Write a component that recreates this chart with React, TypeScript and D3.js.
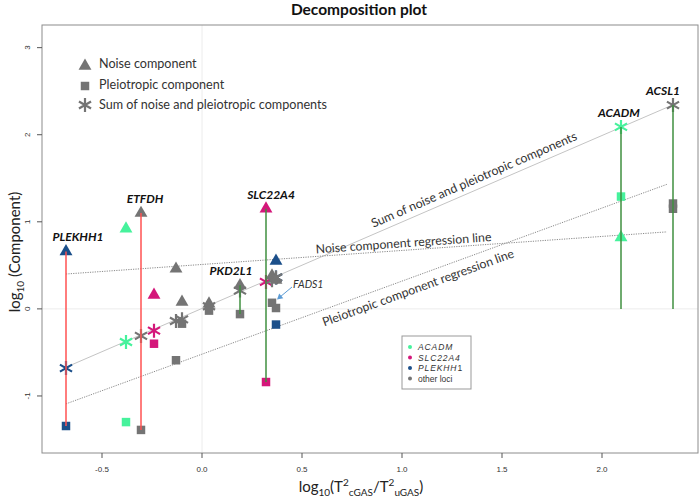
import React from 'react';
import * as d3 from 'd3';

// axis ticks
const xTicks = [-0.5, 0, 0.5, 1, 1.5, 2];
const yTicks = [-1, 0, 1, 2, 3];

// loci: x = log10(T2cGAS/T2uGAS), components on log10 scale (null = not visible)
const lociGroup = ['PLEKHH1', 'ACADM', 'other', 'SLC22A4', 'other', 'other', 'other', 'other', 'SLC22A4', 'PLEKHH1', 'other', 'other', 'ACADM', 'other', 'other'];
const lociX = [-0.68, -0.38, -0.305, -0.24, -0.13, -0.1, 0.035, 0.19, 0.32, 0.37, 0.35, 0.37, 2.095, 2.355, 2.355];
const noiseVals = [0.66, 0.92, 1.1, 0.16, 0.46, 0.08, 0.06, 0.27, 1.15, 0.55, 0.38, 0.33, 0.82, null, null];
const pleioVals = [-1.345, -1.3, -1.39, -0.4, -0.59, -0.17, -0.02, -0.06, -0.84, -0.18, 0.07, 0.01, 1.29, 1.21, 1.15];
const sumVals = [-0.68, -0.38, -0.31, -0.25, -0.14, -0.12, 0.03, 0.21, 0.31, 0.36, 0.33, 0.36, 2.09, 2.34, null];

// vertical stems between components
const stemX = [-0.68, -0.305, 0.19, 0.32, 2.095, 2.355];
const stemTop = [0.66, 1.1, 0.27, 1.15, 2.09, 2.34];
const stemBottom = [-1.345, -1.39, -0.06, -0.84, 0, 0];
const stemKind = ['red', 'red', 'green', 'green', 'green', 'green'];

// gene labels (x of locus + top value)
const geneNames = ['PLEKHH1', 'ETFDH', 'PKD2L1', 'SLC22A4', 'ACADM', 'ACSL1'];
const geneX = [-0.68, -0.305, 0.19, 0.32, 2.095, 2.355];
const geneTop = [0.66, 1.1, 0.27, 1.15, 2.09, 2.34];
const geneShift = [0.06, 0.02, -0.045, 0.025, -0.01, -0.05];

// regression lines y = a + b x
const regLabels = ['Sum of noise and pleiotropic components', 'Noise component regression line', 'Pleiotropic component regression line'];
const regIntercept = [0.005, 0.51, -0.52];
const regSlope = [0.993, 0.161, 0.839];
const regXStart = [-0.68, -0.68, -0.68];
const regXEnd = [2.35, 2.325, 2.325];
const regLabelX = [1.38, 1.01, 1.06];

const groupNames = ['ACADM', 'SLC22A4', 'PLEKHH1', 'other loci'];
const groupKeys = ['ACADM', 'SLC22A4', 'PLEKHH1', 'other'];
const groupColors = ['#46F29C', '#D4177A', '#1B4F8A', '#747474'];

const color = d3.scaleOrdinal<string, string>().domain(groupKeys).range(groupColors);
const stemColor = d3.scaleOrdinal<string, string>().domain(['red', 'green']).range(['#FF5252', '#3F8F3F']);

const font = 'Lato, "Open Sans", sans-serif';

function asterisk(r: number) {
  const p = d3.path();
  [90, 30, 150].forEach(a => {
    const t = (a * Math.PI) / 180;
    p.moveTo(-r * Math.cos(t), -r * Math.sin(t));
    p.lineTo(r * Math.cos(t), r * Math.sin(t));
  });
  return p.toString();
}

export default function App() {
  const W = 699, H = 499;
  const x = d3.scaleLinear().domain([-0.8, 2.48]).range([42, 698]);
  const y = d3.scaleLinear().domain([-1.655, 3.26]).range([453, 25]);

  const tri = d3.symbol().type(d3.symbolTriangle).size(72)() || '';
  const sq = d3.symbol().type(d3.symbolSquare).size(72)() || '';
  const star = asterisk(7);

  const [x0, x1] = x.range();
  const [yb, yt] = y.range();

  return (
    <svg width={W} height={H} style={{ position: 'fixed', left: 0, top: 0, background: '#fff' }}>
      <text x={359} y={15} textAnchor="middle" fontFamily={font} fontWeight="bold" fontSize={15.5} fill="#111">Decomposition plot</text>

      {/* zero grid lines */}
      <line x1={x(0)} x2={x(0)} y1={yt} y2={yb} stroke="#ececec" />
      <line x1={x0} x2={x1} y1={y(0)} y2={y(0)} stroke="#ececec" />

      {/* regression lines */}
      {regLabels.map((lab, i) => {
        const f = (v: number) => regIntercept[i] + regSlope[i] * v;
        const px1 = x(regXStart[i]), py1 = y(f(regXStart[i]));
        const px2 = x(regXEnd[i]), py2 = y(f(regXEnd[i]));
        const ang = (Math.atan2(py2 - py1, px2 - px1) * 180) / Math.PI;
        const lx = x(regLabelX[i]), ly = y(f(regLabelX[i]));
        const off = i === 0 ? -6 : i === 1 ? -3 : 16;
        return (
          <g key={lab}>
            <line x1={px1} y1={py1} x2={px2} y2={py2}
              stroke={i === 0 ? '#c4c4c4' : '#8a8a8a'} strokeWidth={1}
              strokeDasharray={i === 0 ? undefined : '1.2,1.2'} />
            <text transform={`translate(${lx},${ly}) rotate(${ang})`} y={off}
              textAnchor="middle" fontFamily={font} fontSize={12.3} fill="#333">{lab}</text>
          </g>
        );
      })}

      {/* markers */}
      {lociX.map((lx, i) => {
        const c = color(lociGroup[i]);
        const px = x(lx);
        const n = noiseVals[i], p = pleioVals[i], s = sumVals[i];
        return (
          <g key={i}>
            {n !== null && <path d={tri} transform={`translate(${px},${y(n)})`} fill={c} />}
            {p !== null && <path d={sq} transform={`translate(${px},${y(p)})`} fill={c} />}
            {s !== null && <path d={star} transform={`translate(${px},${y(s)})`} stroke={c} strokeWidth={2.2} fill="none" />}
          </g>
        );
      })}

      {/* stems */}
      {stemX.map((sx, i) => (
        <line key={i} x1={x(sx)} x2={x(sx)} y1={y(stemTop[i])} y2={y(stemBottom[i])}
          stroke={stemColor(stemKind[i])} strokeWidth={1.5} />
      ))}

      {/* gene labels */}
      {geneNames.map((g, i) => (
        <text key={g} x={x(geneX[i] + geneShift[i])} y={y(geneTop[i]) - 10} textAnchor="middle"
          fontFamily={font} fontWeight="bold" fontStyle="italic" fontSize={12} fill="#111">{g}</text>
      ))}

      {/* FADS1 annotation */}
      <text x={293} y={288} fontFamily={font} fontStyle="italic" fontSize={10.5} fill="#333">FADS1</text>
      <line x1={292} y1={287} x2={280} y2={297} stroke="#5B9BD5" strokeWidth={1} />
      <path d="M277,299.5 L279.2,293.6 L283.3,298.2 Z" fill="#5B9BD5" />

      {/* frame */}
      <rect x={x0} y={yt} width={x1 - x0} height={yb - yt} fill="none" stroke="#8c8c8c" />

      {/* axes */}
      {xTicks.map(t => (
        <g key={t}>
          <line x1={x(t)} x2={x(t)} y1={yb} y2={yb + 5} stroke="#555" />
          <text x={x(t)} y={472} textAnchor="middle" fontFamily="'Liberation Sans', Arial, sans-serif" fontSize={8} fill="#333">{t.toFixed(1)}</text>
        </g>
      ))}
      {yTicks.map(t => (
        <g key={t}>
          <line x1={x0 - 5} x2={x0} y1={y(t)} y2={y(t)} stroke="#555" />
          <text transform={`translate(30,${y(t)}) rotate(-90)`} textAnchor="middle" fontFamily="'Liberation Sans', Arial, sans-serif" fontSize={8} fill="#333">{t}</text>
        </g>
      ))}

      <text transform="translate(20,252) rotate(-90)" textAnchor="middle" fontFamily={font} fontSize={15} fill="#222">
        <tspan>log</tspan><tspan fontSize={10} dy={4}>10</tspan><tspan dy={-4}> (Component)</tspan>
      </text>
      <text x={361} y={492} textAnchor="middle" fontFamily={font} fontSize={15} fill="#222">
        <tspan>log</tspan><tspan fontSize={10} dy={4}>10</tspan><tspan dy={-4}>(T</tspan>
        <tspan fontSize={10} dy={-6}>2</tspan><tspan fontSize={10} dy={10}>cGAS</tspan>
        <tspan dy={-4}>/T</tspan><tspan fontSize={10} dy={-6}>2</tspan><tspan fontSize={10} dy={10}>uGAS</tspan>
        <tspan dy={-4}>)</tspan>
      </text>

      {/* shape legend */}
      <g fontFamily={font} fontSize={12.6} fill="#333">
        <path d={tri} transform="translate(85,66)" fill="#747474" />
        <text x={99} y={68}>Noise component</text>
        <path d={sq} transform="translate(85,86)" fill="#747474" />
        <text x={99} y={89}>Pleiotropic component</text>
        <path d={star} transform="translate(85,105)" stroke="#747474" strokeWidth={2.2} fill="none" />
        <text x={99} y={109}>Sum of noise and pleiotropic components</text>
      </g>

      {/* colour legend */}
      <rect x={402} y={336} width={69} height={53} fill="#fff" stroke="#999" />
      {groupNames.map((g, i) => (
        <g key={g}>
          <circle cx={410} cy={347 + i * 10.5} r={2} fill={groupColors[i]} />
          <text x={418} y={350 + i * 10.5} fontFamily="'Liberation Sans', Arial, sans-serif" fontSize={8.5}
            fill="#333" fontStyle={i < 3 ? 'italic' : 'normal'} letterSpacing={i < 3 ? 0.9 : 0}>
            {g === 'PLEKHH1' ? <><tspan>PLEKHH</tspan><tspan fontStyle="normal">1</tspan></> : g}
          </text>
        </g>
      ))}
    </svg>
  );
}
